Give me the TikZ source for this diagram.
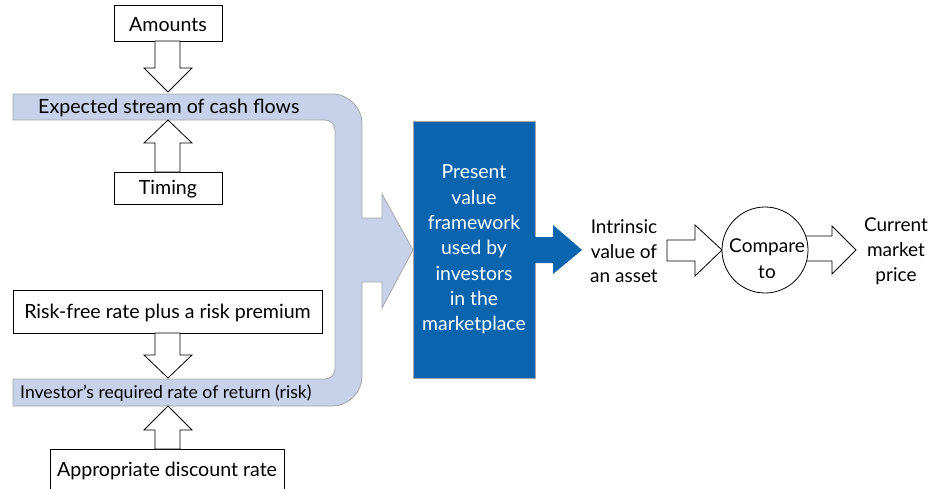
\documentclass[tikz,border=0pt]{standalone}
\usepackage{fontspec}
\setmainfont{Lato}
\definecolor{bandblue}{HTML}{C7D2EA}
\definecolor{bandedge}{HTML}{A6A6A6}
\definecolor{boxblue}{HTML}{0A64AE}
\begin{document}
\begin{tikzpicture}[x=1pt,y=-1pt,
  txt/.style={font=\fontsize{19.6}{23}\selectfont, inner sep=0pt},
  wbox/.style={draw=black, line width=0.8pt, fill=white, txt},
  hollow/.style={draw=black, line width=0.8pt, fill=white, line join=miter},
  band/.style={fill=bandblue, draw=bandedge, line width=0.8pt}]
\useasboundingbox (0,0) rectangle (937,488);

% band
\draw[band] (13,94) -- (332,94) arc[start angle=-90,end angle=0,radius=30] -- (362,218) -- (382,218) -- (382,194) -- (413,250) -- (382,308) -- (382,282) -- (362,282) -- (362,376) arc[start angle=0,end angle=90,radius=30] -- (13,406) -- (13,379) -- (325,379) arc[start angle=90,end angle=0,radius=10] -- (335,130) arc[start angle=0,end angle=-90,radius=10] -- (13,120) -- cycle;

\node[txt, anchor=west] (cash) at (38,108) {Expected stream of cash flows};
\node[txt, anchor=west, font=\fontsize{17.6}{20}\selectfont] (req) at (20,393) {Investor’s required rate of return (risk)};

% white boxes
\path[wbox] (114,5) rectangle (222,41);
\node[txt] (amounts) at (168,24.5) {Amounts};
\path[wbox] (114,172) rectangle (222,204);
\node[txt] (timing) at (168,189.5) {Timing};
\path[wbox] (13,290) rectangle (322,333);
\node[txt] (riskfree) at (167.5,313) {Risk-free rate plus a risk premium};
\path[wbox] (50,449) rectangle (284,490);
\node[txt] (disc) at (167,470.5) {Appropriate discount rate};

% hollow arrows
\draw[hollow] (155,41) -- (155,68) -- (144,68) -- (168,92) -- (192,68) -- (180,68) -- (180,41) -- cycle;
\draw[hollow] (155,172) -- (155,143) -- (144,143) -- (168,120) -- (192,143) -- (180,143) -- (180,172) -- cycle;
\draw[hollow] (155,333) -- (155,355) -- (144,355) -- (168,378) -- (192,355) -- (180,355) -- (180,333) -- cycle;
\draw[hollow] (155,449) -- (155,430) -- (144,430) -- (168,406) -- (192,430) -- (180,430) -- (180,449) -- cycle;

% blue box
\node[draw=bandedge, line width=0.6pt, fill=boxblue, minimum width=122pt, minimum height=257pt, inner sep=0pt] (pv) at (474,249.5) {};
\node[txt, text=white, align=center, font=\fontsize{19.4}{25.3}\selectfont] (pvtxt) at (474,249.5) {Present\\value\\framework\\used by\\investors\\in the\\marketplace};

% blue arrow
\fill[boxblue] (535,237) -- (553,237) -- (553,225) -- (582,250) -- (553,274) -- (553,263) -- (535,263) -- cycle;

\node[txt, align=center, font=\fontsize{19}{24.5}\selectfont] (intr) at (624,251.5) {Intrinsic\\value of\\an asset};

% compare arrows
\draw[hollow] (667,240) -- (695,240) -- (695,225) -- (722,250) -- (695,276) -- (695,261) -- (667,261) -- cycle;
\draw[hollow] (790,236) -- (832,236) -- (832,226) -- (856,250) -- (832,274) -- (832,261) -- (790,261);
\node[draw=black, line width=0.8pt, fill=white, circle, minimum size=86pt, inner sep=0pt] (cmp) at (765,250) {};
\node[txt, align=center, font=\fontsize{19}{26}\selectfont] (cmptxt) at (767,258.5) {Compare\\to};

\node[txt, align=center, font=\fontsize{19}{25}\selectfont] (cur) at (896,251.5) {Current\\market\\price};
\end{tikzpicture}
\end{document}
